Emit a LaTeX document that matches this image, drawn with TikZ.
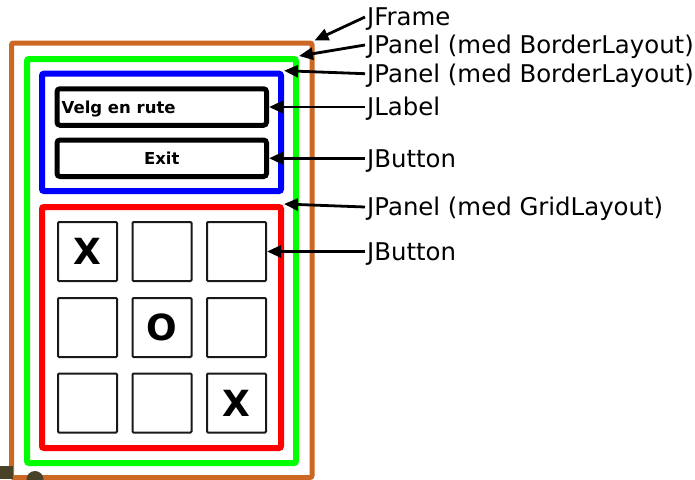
\documentclass[tikz,border=0pt]{standalone}
\usepackage{fontspec}
\setmainfont{DejaVu Sans}
\usetikzlibrary{arrows.meta}
\definecolor{frameorange}{RGB}{205,104,36}
\definecolor{panelgreen}{RGB}{0,255,0}
\definecolor{panelblue}{RGB}{0,0,255}
\definecolor{panelred}{RGB}{255,0,0}
\definecolor{olivemark}{RGB}{72,66,40}
\begin{document}
\begin{tikzpicture}[x=1pt,y=-1pt,
  panel/.style={draw, line width=6pt, rounded corners=2pt, inner sep=0pt},
  widget/.style={draw=black, line width=5pt, rounded corners=3pt, inner sep=0pt,
    minimum width=209.5pt, minimum height=36.5pt,
    font=\bfseries\fontsize{16.5}{18}\selectfont},
  cell/.style={draw=black!90, line width=2pt, rounded corners=1pt, minimum size=59pt,
    inner sep=0pt, font=\bfseries\fontsize{36}{40}\selectfont},
  callout/.style={anchor=west, inner xsep=2pt, inner ysep=0pt, text height=17.8pt,
    text depth=0pt, font=\fontsize{24.4}{28}\selectfont},
  pointer/.style={line width=2.8pt, -{Triangle[length=14pt,width=12pt]}}]

\useasboundingbox (0,0) rectangle (695,479);

% nested containers
\node[panel, draw=frameorange, line width=5pt, minimum width=300.5pt, minimum height=434.5pt] (jframe) at (161.75,260.25) {};
\node[panel, draw=panelgreen, minimum width=269pt, minimum height=404pt] (content) at (161.5,261) {};
\node[panel, draw=panelblue, minimum width=239pt, minimum height=117.3pt] (north) at (161.5,132.35) {};
\node[panel, draw=panelred, minimum width=239pt, minimum height=241pt] (grid) at (161.5,327.5) {};

% widgets of the upper panel
\node[widget] (lblbox) at (161.75,107) {};
\node[anchor=west, inner sep=0pt, text height=12.3pt, text depth=0pt,
  font=\bfseries\fontsize{16.5}{18}\selectfont] (lbltext) at ([xshift=7pt]lblbox.west) {Velg en rute};
\node[widget] (exitbtn) at (161.75,158.25) {Exit};

% 3x3 button grid
\node[cell] (c11) at (87.5,251.5) {X};
\node[cell] (c12) at (162,251.5) {};
\node[cell] (c13) at (236.5,251.5) {};
\node[cell] (c21) at (87.5,327.5) {};
\node[cell] (c22) at (162,327.5) {O};
\node[cell] (c23) at (236.5,327.5) {};
\node[cell] (c31) at (87.5,403) {};
\node[cell] (c32) at (162,403) {};
\node[cell] (c33) at (236.5,403) {X};

% small marks in the lower left corner
\fill[olivemark] (0,465.7) rectangle (13.3,479);
\fill[olivemark] (35,479.5) circle (8.5pt);

% callouts
\node[callout] (tFrame) at (365,17) {JFrame};
\node[callout] (tContent) at (365,45) {JPanel (med BorderLayout)};
\node[callout] (tNorth) at (365,73.7) {JPanel (med BorderLayout)};
\node[callout] (tLabel) at (365,107) {JLabel};
\node[callout] (tExit) at (365,158.25) {JButton};
\node[callout] (tGrid) at (365,207) {JPanel (med GridLayout)};
\node[callout] (tCell) at (365,251.5) {JButton};

\draw[pointer] (tFrame.west) -- (jframe.north east);
\draw[pointer] (tContent.west) -- (content.north east);
\draw[pointer] (tNorth.west) -- (north.north east);
\draw[pointer] (tLabel.west) -- (lblbox.east);
\draw[pointer] (tExit.west) -- (exitbtn.east);
\draw[pointer] (tGrid.west) -- (grid.north east);
\draw[pointer] (tCell.west) -- (c13.east);
\end{tikzpicture}
\end{document}
